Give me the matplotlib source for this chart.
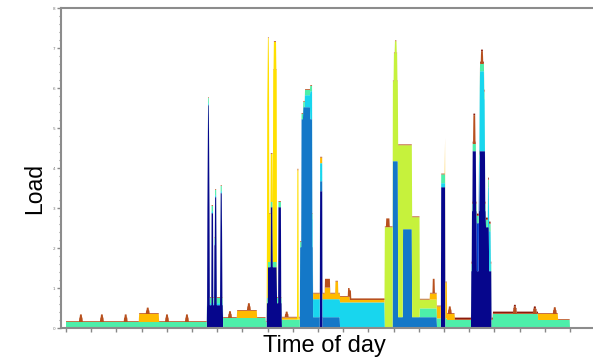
import numpy as np
import matplotlib
matplotlib.use("Agg")
import matplotlib.pyplot as plt
from matplotlib.ticker import MultipleLocator

# ---- data: minutes of the day, load per appliance (segments: start, end, added load) ----
T_END = 1440

navy_seg = [
    (0, 1440, 0.02),
    (403, 449, 0.55), (404, 411, 2.4), (405, 410, 1.4), (406, 409, 1.2),
    (416, 421, 2.3), (424, 431, 1.5), (426, 430, 1.2),
    (441, 447, 1.6), (442, 446, 1.2),
    (574, 617, 0.6), (577, 603, 0.9), (585, 591, 1.5), (607, 615, 2.4),
    (726, 733, 3.4),
    (1072, 1084, 3.5),
    (1158, 1216, 1.4), (1160, 1174, 1.5), (1162, 1172, 1.5),
    (1180, 1200, 1.5), (1182, 1198, 1.5), (1200, 1209, 1.1),
]
blue_seg = [
    (1174, 1181, 1.2),
]
steel_seg = [
    (669, 706, 2.0), (673, 704, 3.2), (678, 698, 0.3),
    (706, 783, 0.25),
    (934, 1060, 0.25), (934, 949, 3.9), (963, 989, 2.2),
]
cyan_seg = [
    (403, 449, 0.05),
    (683, 706, 0.3), (698, 706, 0.4),
    (706, 783, 0.45), (783, 911, 0.62),
    (1072, 1084, 0.1),
    (1181, 1197, 1.3), (1183, 1195, 0.7),
    (1206, 1214, 1.0),
]
mint_seg = [
    (0, 706, 0.13), (449, 571, 0.1), (617, 669, 0.06),
    (1011, 1089, 0.22),
    (1089, 1220, 0.18),
    (1220, 1349, 0.33),
    (1349, 1440, 0.18),
]
lime_seg = [
    (911, 934, 2.5),
    (934, 949, 2.0), (937, 947, 0.7), (940, 945, 0.3),
    (949, 963, 4.3), (963, 989, 2.1), (989, 1011, 2.5),
    (1011, 1060, 0.22),
]
yellow_seg = [
    (574, 603, 1.2), (575, 581, 3.6), (576, 580, 0.8), (592, 603, 3.6), (594, 601, 0.7),
    (661, 665, 3.7),
]
orange_seg = [
    (209, 266, 0.2),
    (489, 546, 0.18),
    (617, 669, 0.05),
    (706, 811, 0.14), (740, 755, 0.15), (770, 778, 0.3),
    (811, 911, 0.06),
    (1040, 1060, 0.15), (1060, 1072, 0.3), (1083, 1089, 0.9), (1089, 1111, 0.15),
    (1349, 1406, 0.15),
]
brown_seg = [
    (0, 1440, 0.02),
    (38, 48, 0.09), (40, 46, 0.08),
    (98, 108, 0.09), (100, 106, 0.08),
    (166, 176, 0.09), (168, 174, 0.08),
    (229, 239, 0.07), (231, 237, 0.07),
    (284, 294, 0.09), (286, 292, 0.08),
    (341, 351, 0.09), (343, 349, 0.08),
    (464, 474, 0.08), (466, 472, 0.07),
    (518, 528, 0.09), (520, 526, 0.08),
    (626, 636, 0.07), (628, 634, 0.06),
    (740, 755, 0.2), (806, 815, 0.2), (811, 911, 0.02),
    (915, 925, 0.2), (1048, 1054, 0.35),
    (1092, 1102, 0.09), (1094, 1100, 0.08),
    (1164, 1170, 0.7), (1186, 1192, 0.3),
    (1278, 1288, 0.09), (1280, 1286, 0.08),
    (1335, 1345, 0.07), (1337, 1343, 0.06),
    (1392, 1402, 0.08), (1394, 1400, 0.07),
]
darkred_seg = [
    (1111, 1349, 0.04),
]

series_segments = [navy_seg, blue_seg, steel_seg, cyan_seg, mint_seg,
                   lime_seg, yellow_seg, orange_seg, brown_seg, darkred_seg]
colors = ["#06068C", "#0040D0", "#1478C8", "#18D6EE", "#4DEFAA",
          "#C6F23C", "#FFE000", "#FFBA00", "#B8501E", "#8C1A0A"]

t = np.arange(0, T_END + 1)

def build(segs):
    v = np.zeros_like(t, dtype=float)
    for s, e, val in segs:
        v[(t >= s) & (t < e)] += val
    return v

Y = [build(s) for s in series_segments]

# ---- figure ----
W, H = 593, 358
fig = plt.figure(figsize=(W / 100, H / 100), dpi=100)
ax = fig.add_axes([61 / W, 30 / H, 532 / W, 320 / H])
ax.stackplot(t, *Y, colors=colors, linewidth=0)

ax.set_xlim(-14.3, 1505.7)
ax.set_ylim(0, 8)
ax.set_xticks(np.arange(0, 1441, 72))
ax.set_xticklabels([])
ax.set_yticks(np.arange(0, 9, 1))
ax.yaxis.set_minor_locator(MultipleLocator(0.2))
ax.tick_params(axis="both", which="major", direction="out", length=3,
               width=1, color="#888888")
ax.tick_params(axis="y", which="minor", direction="out", length=1.8,
               width=0.8, color="#888888")
ax.tick_params(axis="y", labelsize=3, labelcolor="#777777", pad=1)

for side in ["left", "bottom", "top"]:
    ax.spines[side].set_color("#8c8c8c")
    ax.spines[side].set_linewidth(1.5)
ax.spines["right"].set_visible(False)

font = "Liberation Sans"
fig.text(35 / W, 1 - 188 / H, "Load", rotation=90, ha="center", va="center",
         fontsize=16.5, family=font)
fig.text(324 / W, 1 - 346 / H, "Time of day", ha="center", va="center",
         fontsize=17, family=font)
fig.text(332 / W, 1 + 6 / H, "Daily load profile by appliance type",
         ha="center", va="baseline", fontsize=17, family=font)

fig.savefig("out.png", dpi=100)
